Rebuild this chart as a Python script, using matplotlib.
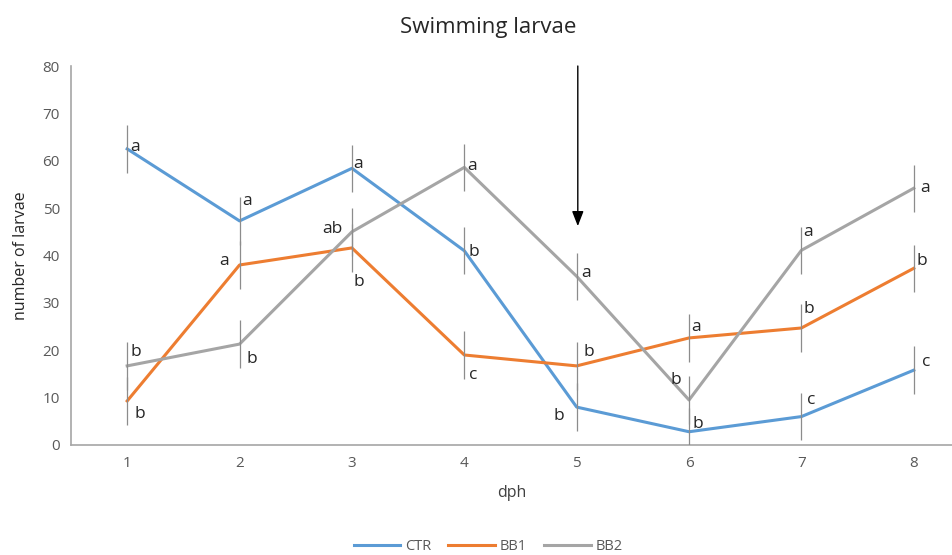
import matplotlib.pyplot as plt

plt.rcParams['font.family'] = ['Open Sans', 'DejaVu Sans']

dph = [1, 2, 3, 4, 5, 6, 7, 8]
ctr = [62.5, 47.3, 58.4, 41.0, 8.0, 2.8, 6.0, 15.8]
bb1 = [9.3, 38.0, 41.6, 19.0, 16.7, 22.6, 24.7, 37.3]
bb2 = [16.7, 21.3, 45.0, 58.6, 35.6, 9.5, 41.1, 54.2]
ctr_err = [5, 5, 5, 5, 5, 5, 5, 5]
bb1_err = [5, 5, 5, 5, 5, 5, 5, 5]
bb2_err = [5, 5, 5, 5, 5, 5, 5, 5]
ctr_letters = ['a', 'a', 'a', 'b', 'b', 'b', 'c', 'c']
bb1_letters = ['b', 'a', 'b', 'c', 'b', 'a', 'b', 'b']
bb2_letters = ['b', 'b', 'ab', 'a', 'a', 'b', 'a', 'a']

# letter offsets in pixels (dx, dy)
ctr_off = [(8, 2), (8, 20), (6, 4), (10, -1), (-18, -9), (9, 8), (10, 17), (12, 8)]
bb1_off = [(13, -13), (-15, 4), (7, -34), (9, -20), (12, 14), (7, 11), (7, 19), (8, 7)]
bb2_off = [(9, 14), (12, -15), (-20, 3), (8, 1), (9, 3), (-13, 20), (7, 18), (11, 0)]

fig = plt.figure(figsize=(9.53, 5.55), dpi=100)
ax = fig.add_axes([71 / 953, 1 - 445 / 555, (952 - 71) / 953, (445 - 66) / 555])

series = [
    ("CTR", ctr, ctr_err, ctr_letters, ctr_off, "#5B9BD5"),
    ("BB1", bb1, bb1_err, bb1_letters, bb1_off, "#ED7D31"),
    ("BB2", bb2, bb2_err, bb2_letters, bb2_off, "#A5A5A5"),
]

for name, vals, err, letters, offs, color in series:
    ax.plot(dph, vals, color=color, lw=2.2, label=name, zorder=2)
    ax.errorbar(dph, vals, yerr=err, fmt='none', ecolor='#8c8c8c', elinewidth=0.9, capsize=0, zorder=3)
    for x, y, t, (dx, dy) in zip(dph, vals, letters, offs):
        ax.annotate(t, (x, y), xytext=(dx * 0.72, dy * 0.72), textcoords='offset points',
                    ha='center', va='center', fontsize=12.5, color='#262626', zorder=4)

ax.annotate('', xy=(5.01, 46.2), xytext=(5.01, 80),
            arrowprops=dict(arrowstyle='-|>,head_width=0.35,head_length=0.9', color='black', lw=1.0,
                            shrinkA=0, shrinkB=0), annotation_clip=False)

ax.set_xlim(0.5, 8.34)
ax.set_ylim(0, 80)
ax.set_xticks(dph)
ax.set_yticks(range(0, 81, 10))
ax.tick_params(length=0, labelsize=11, labelcolor='#595959', pad=8)
for s in ['top', 'right']:
    ax.spines[s].set_visible(False)
ax.spines['left'].set_color('#a6a6a6')
ax.spines['bottom'].set_color('#a6a6a6')
ax.spines['left'].set_linewidth(1.2)
ax.spines['bottom'].set_linewidth(1.2)

ax.set_xlabel('dph', fontsize=11.5, color='#404040', labelpad=10)
ax.set_ylabel('number of larvae', fontsize=11.5, color='#262626', labelpad=10)
fig.text(488 / 953, 1 - 28 / 555, 'Swimming larvae', ha='center', va='center', fontsize=16, color='#262626')

fig.legend(loc='center', bbox_to_anchor=(488 / 953, 1 - 547 / 555), ncol=3, frameon=False,
           fontsize=10.5, handlelength=3.2, handletextpad=0.3, columnspacing=1.2, labelcolor='#595959')

fig.savefig('out.png', dpi=100)
